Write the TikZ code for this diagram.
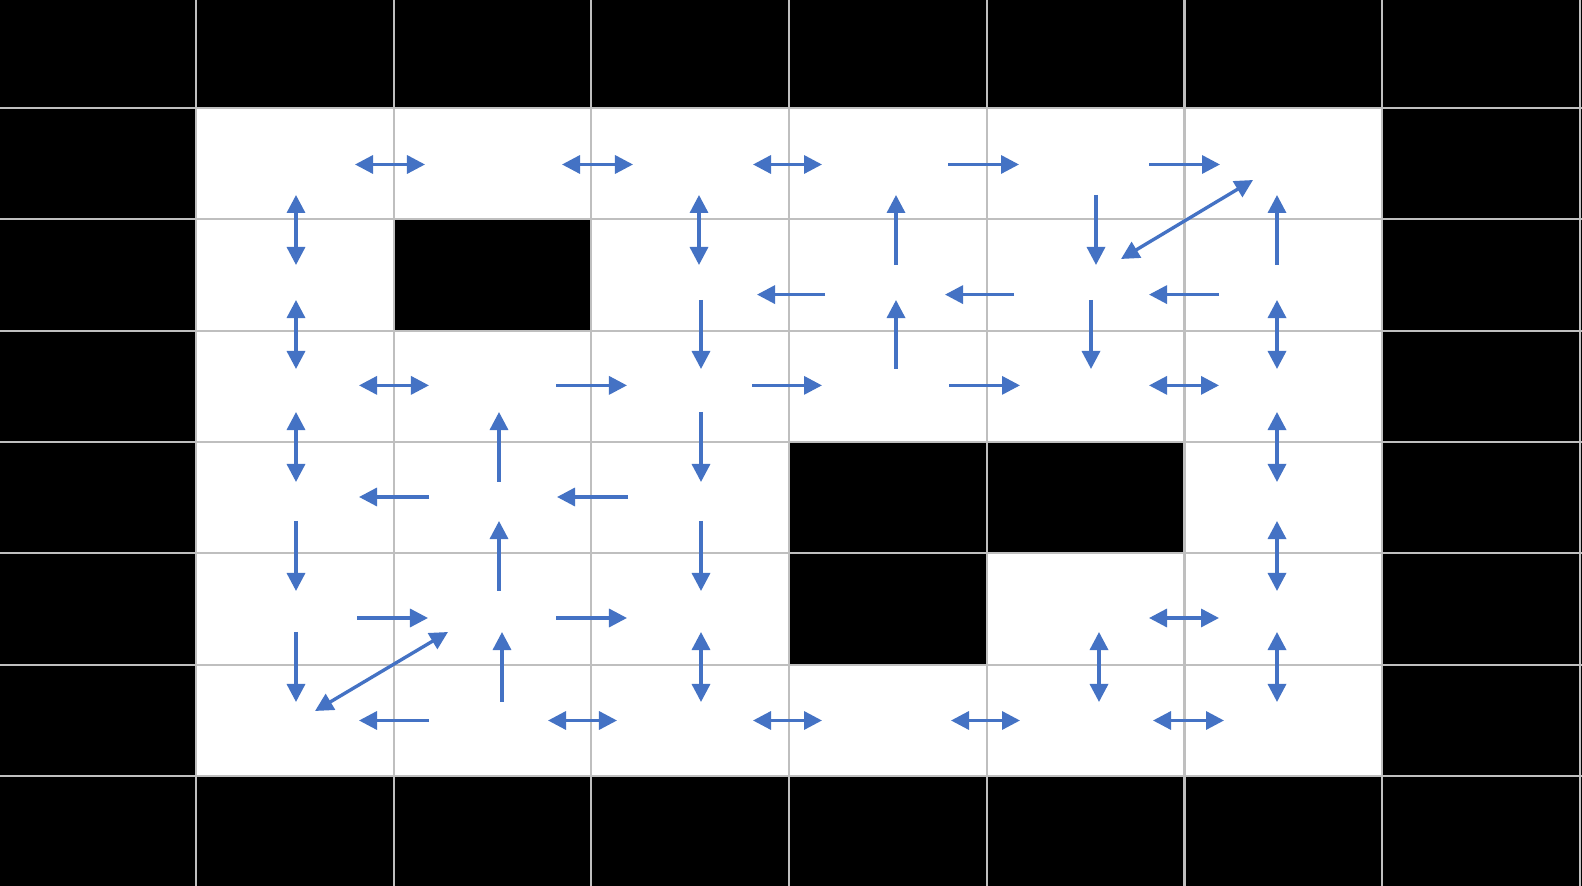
\documentclass[tikz,border=0pt]{standalone}
\usetikzlibrary{arrows.meta}
\definecolor{arrowblue}{HTML}{4472C4}
\definecolor{gridgray}{HTML}{BFBFBF}
\tikzset{
  gridline/.style={draw=gridgray, line width=0.6pt},
  mv/.style={draw=arrowblue, line width=0.95pt, -{Triangle[length=0.18cm,width=0.18cm]}},
  mvboth/.style={draw=arrowblue, line width=0.95pt, {Triangle[length=0.18cm,width=0.18cm]}-{Triangle[length=0.18cm,width=0.18cm]}}
}
\begin{document}
\begin{tikzpicture}[x=0.01cm,y=-0.01cm]
\useasboundingbox (0,0) rectangle (1582,886);
% background walls
\fill[black] (0,0) rectangle (1582,886);
\fill[white] (196,108) rectangle (1382.2,776);
\fill[black] (393.7,219.3) rectangle (591.4,330.7);
\fill[black] (789.1,442) rectangle (986.8,664.7);
\fill[black] (986.8,442) rectangle (1184.5,553.3);
% grid lines
\foreach \gx in {196,393.7,591.4,789.1,986.8,1184.5,1382.2,1580}
  \draw[gridline] (\gx,0) -- (\gx,886);
\foreach \gy in {108,219.3,330.7,442,553.3,664.7,776}
  \draw[gridline] (0,\gy) -- (1582,\gy);
% row 1 horizontal
\draw[mvboth] (355,164.5) -- (425,164.5);
\draw[mvboth] (562,164.5) -- (633,164.5);
\draw[mvboth] (753,164.5) -- (822,164.5);
\draw[mv] (948,164.5) -- (1019,164.5);
\draw[mv] (1149,164.5) -- (1220,164.5);
% boundary rows 1/2 vertical
\draw[mvboth] (296,195) -- (296,265);
\draw[mvboth] (699,195) -- (699,265);
\draw[mv] (896,265) -- (896,195);
\draw[mv] (1096,195) -- (1096,265);
\draw[mvboth] (1121,259) -- (1253,180);
\draw[mv] (1277,265) -- (1277,195);
% row 2 horizontal
\draw[mv] (825,294.6) -- (757,294.6);
\draw[mv] (1014,294.6) -- (945,294.6);
\draw[mv] (1219,294.6) -- (1149,294.6);
% boundary rows 2/3 vertical
\draw[mvboth] (296,300) -- (296,369);
\draw[mv] (701,300) -- (701,369);
\draw[mv] (896,369) -- (896,300);
\draw[mv] (1091,300) -- (1091,369);
\draw[mvboth] (1277,300) -- (1277,369);
% row 3 horizontal
\draw[mvboth] (359,385.4) -- (429,385.4);
\draw[mv] (556,385.4) -- (627,385.4);
\draw[mv] (752,385.4) -- (822,385.4);
\draw[mv] (949,385.4) -- (1020,385.4);
\draw[mvboth] (1149,385.4) -- (1219,385.4);
% boundary rows 3/4 vertical
\draw[mvboth] (296,412) -- (296,482);
\draw[mv] (499,482) -- (499,412);
\draw[mv] (701,412) -- (701,482);
\draw[mvboth] (1277,412) -- (1277,482);
% row 4 horizontal
\draw[mv] (429,497) -- (359,497);
\draw[mv] (628,497) -- (557,497);
% boundary rows 4/5 vertical
\draw[mv] (296,521) -- (296,591);
\draw[mv] (499,591) -- (499,521);
\draw[mv] (701,521) -- (701,591);
\draw[mvboth] (1277,521) -- (1277,591);
% row 5 horizontal
\draw[mv] (357,618) -- (428,618);
\draw[mv] (556,618) -- (627,618);
\draw[mvboth] (1149,618) -- (1219,618);
% boundary rows 5/6 vertical
\draw[mv] (296,632) -- (296,702);
\draw[mvboth] (315,711) -- (448,632);
\draw[mv] (502,702) -- (502,632);
\draw[mvboth] (701,632) -- (701,702);
\draw[mvboth] (1099,632) -- (1099,702);
\draw[mvboth] (1277,632) -- (1277,702);
% row 6 horizontal
\draw[mv] (429,720.5) -- (359,720.5);
\draw[mvboth] (548,720.5) -- (617,720.5);
\draw[mvboth] (753,720.5) -- (822,720.5);
\draw[mvboth] (951,720.5) -- (1020,720.5);
\draw[mvboth] (1153,720.5) -- (1224,720.5);
\end{tikzpicture}
\end{document}
